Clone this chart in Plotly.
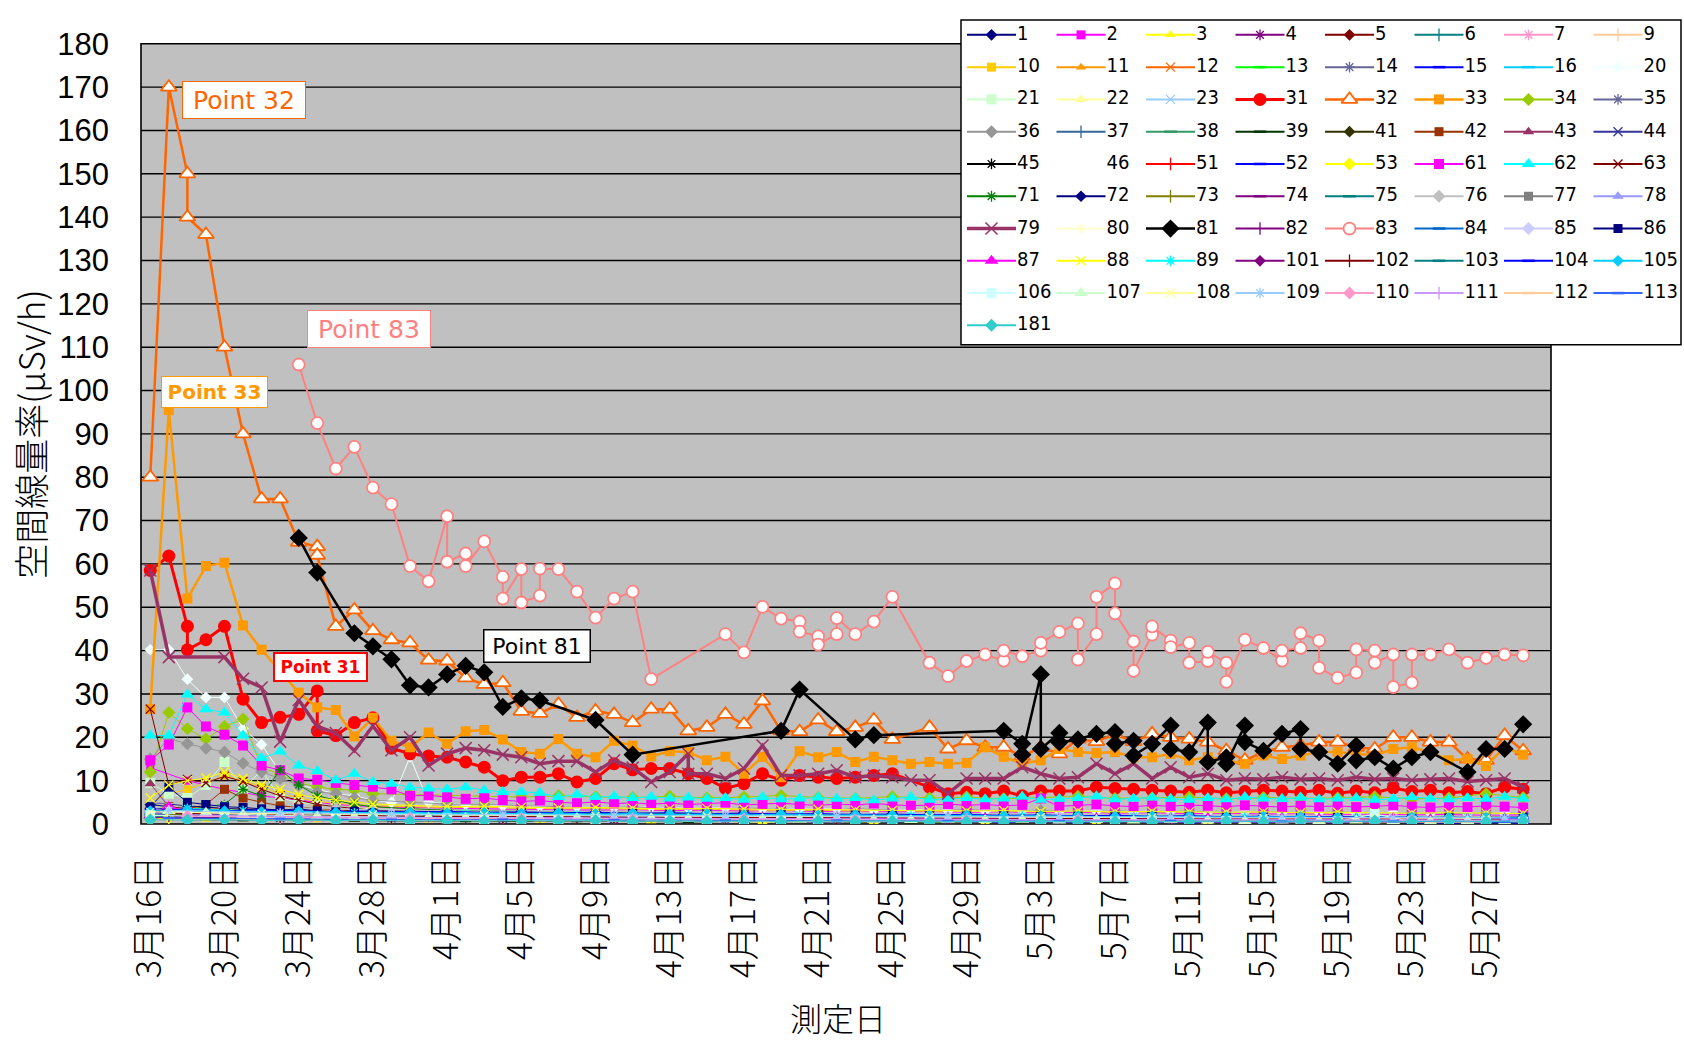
import pandas as pd
import plotly.graph_objects as go

BASE = pd.Timestamp("2011-03-16")

# ---------------- category (day offset from 3/16) lists ----------------
D_ALL = list(range(0, 75))
D_EVEN = list(range(0, 75, 2))
D_ODD = list(range(1, 75, 2))
D_EARLY = list(range(0, 13)) + list(range(14, 75, 2))
D3_A = list(range(0, 75, 3))
D3_B = list(range(1, 75, 3))
D3_C = list(range(2, 75, 3))
D6_A = list(range(0, 75, 6))
D6_B = list(range(1, 75, 6))
D6_C = list(range(2, 75, 6))

# ---------------- main series ----------------
s31_d = [0, 1, 2, 2, 3, 4, 5, 6, 7, 8, 9, 9] + list(range(10, 41)) + list(range(42, 75))
s31_v = [58.5, 61.8, 45.6, 40.2, 42.5, 45.6, 28.8, 23.4, 24.6, 25.3, 30.7, 21.5,
         20.4, 23.4, 24.5, 17.5, 16.2, 15.7, 15.4, 14.3, 13.1, 10,
         10.8, 10.8, 11.6, 9.7, 10.5, 13.9, 12.5, 12.8, 12.8, 11.6,
         10.5, 8.2, 9.3, 11.6, 10.1, 11.2, 10.8, 10.5, 10.8, 11.2,
         11.6,
         8.5, 7, 7.3, 7, 7.6, 6.5, 7.6, 7.6, 7.6, 8.5,
         8.2, 8, 7.8, 7.6, 7.3, 7.8, 7.2, 7.5, 7.8, 7.6,
         7.3, 7.8, 7.1, 7.6, 7.2, 8.3, 7.5, 7.8, 7.2, 7.5,
         7, 8.5, 8]

s32_d = [0, 1, 2, 2, 3, 4, 5, 6, 7, 8, 9, 9] + list(range(10, 41)) + list(range(42, 75))
s32_v = [80, 170, 150, 140, 136, 110, 90, 75, 75, 65, 64, 62,
         45.6, 49.4, 44.6, 42.5, 41.8, 37.8, 37.6, 33.7, 32.2, 32.6,
         26, 25.5, 27.6, 24.6, 26.1, 25.3, 23.4, 26.5, 26.5, 21.5,
         22.3, 25.3, 23, 28.4, 21.5, 21.3, 24, 21.3, 22.3, 24,
         19.5,
         22.3, 17.3, 19.2, 17.7, 17.7, 15.6, 17.7, 16.2, 19.6, 19,
         20.8, 19, 20.8, 20, 19.6, 18.9, 16.9, 14.7, 16.6, 17.7,
         18.1, 18.9, 18.9, 17.7, 17.3, 20, 20, 18.9, 18.9, 15,
         14.7, 20.4, 16.9]

s33_d = list(range(0, 7)) + list(range(8, 75))
s33_v = [26.5, 95.5, 52, 59.5, 60.3, 45.8, 40.2,
         30.3, 26.9, 26.3, 20.2, 24.5, 19.2, 17.7, 21.1, 18.5, 21.4,
         21.7, 19.5, 16.6, 16.2, 19.6, 16.2, 15.4, 19.2, 18.1, 15.6,
         16.8, 16.6, 14.7, 15.5, 11.6, 15.5, 10.8, 16.8, 15.4, 16.6,
         14.3, 15.5, 14.7, 13.9, 14.3, 13.9, 14.1, 17.7, 15.5, 13.9,
         14.7, 17.3, 16.6, 16.4, 16.6, 15.4, 15.4, 16.2, 14.7, 15.4,
         14.7, 13.9, 15.8, 15, 15.8, 16.6, 16.6, 16.2, 15.8, 17.3,
         17.7, 16.6, 14.7, 15, 13.4, 17.7, 16]

s79_d = [0, 1] + list(range(4, 30)) + [29] + list(range(30, 75))
s79_v = [58.5, 38.5,
         38.5, 33.5, 31.5, 19, 28.6, 22.5, 21, 16.9, 22.6, 17,
         20, 13.5, 16.2, 17.5, 17, 16, 15.4, 13.9, 14.5, 14.5,
         12, 14.7, 13, 9.7, 12, 16.2,
         11.6,
         11.6, 10.5, 12.8, 18.1, 11.2, 11.2, 11.6, 12.4, 10.8, 11.2,
         10.8, 10.1, 10.1, 7, 10.5, 10.5, 10.5, 13.1, 11.6, 10.5,
         10.8, 13.9, 11.6, 13.9, 10.5, 13.1, 10.8, 11.6, 10.1, 10.5,
         10.3, 10.8, 10.3, 10.5, 10.1, 10.8, 10.3, 10.5, 10.1, 10.3,
         10.5, 9.8, 10.1, 10.5, 8.5]

s81_d = [8, 9, 11, 12, 13, 14, 15, 16, 17, 18, 19, 20, 21, 24, 26, 34, 35, 38, 39, 46,
         47, 47, 48, 48, 49, 49, 50, 51, 52, 52, 53, 53, 54, 55, 55, 56, 57, 57, 58, 58,
         59, 59, 60, 61, 62, 62, 63, 64, 65, 65, 66, 67, 68, 69, 71, 72, 73, 74]
s81_v = [66, 58, 44, 41, 38, 32, 31.5, 34.5, 36.5, 35, 27, 29, 28.5, 24, 16, 21.5, 31, 19.5, 20.5, 21.5,
         18.5, 16, 34.5, 17.3, 21, 18.8, 19.5, 20.8, 21.2, 18.5, 19.2, 15.8, 18.5, 22.7, 17.3, 16.6, 23.4, 14.3, 15.4, 13.9,
         22.7, 18.9, 16.9, 20.8, 21.9, 17.3, 16.6, 13.9, 18.1, 14.7, 15.4, 12.8, 15.4, 16.6, 12, 17.3, 17.3, 23]

s83_d = [8, 9, 10, 11, 12, 13, 14, 15, 16, 16, 17, 17, 18, 19, 19, 20, 20, 21, 21, 22,
         23, 24, 25, 26, 27, 31, 32, 33, 34, 35, 35, 36, 36, 37, 37, 38, 39, 40, 42, 43,
         44, 45, 46, 46, 47, 48, 48, 49, 50, 50, 51, 51, 52, 52, 53, 53, 54, 54, 55, 55,
         56, 56, 57, 57, 58, 58, 59, 60, 61, 61, 62, 62, 63, 63, 64, 65, 65, 66, 66, 67,
         67, 68, 68, 69, 70, 71, 72, 73, 74]
s83_v = [106, 92.5, 82, 87, 77.6, 73.8, 59.5, 56, 71, 60.5, 62.4, 59.5, 65.2, 57, 52, 58.8, 51.1, 52.7, 58.9, 58.8,
         53.6, 47.6, 52, 53.6, 33.4, 43.8, 39.6, 50.1, 47.4, 46.7, 44.4, 43.3, 41.4, 43.8, 47.5, 43.8, 46.7, 52.4, 37.2, 34.1,
         37.6, 39.1, 37.7, 40, 38.7, 40, 41.8, 44.3, 46.3, 37.9, 43.8, 52.4, 55.5, 48.6, 42.1, 35.3, 43.7, 45.6, 42.3, 40.8,
         41.8, 37.2, 37.6, 39.7, 37.2, 32.8, 42.5, 40.6, 37.7, 40, 40.6, 44, 42.3, 36, 33.7, 34.9, 40.3, 40, 37.2, 39.1,
         31.6, 32.6, 39.1, 39.1, 40.3, 37.2, 38.3, 39.1, 38.9]

s20_d = list(range(0, 16)) + list(range(17, 75, 2))
s20_v = [40.2, 40.2, 33.4, 29.2, 29.2, 22.0, 18.3, 12.0, 9.0, 8.0, 7.0, 6.5, 5.5, 5.0, 15.5, 5.0,
         4.5, 4.2, 4.1, 4.0, 3.8, 3.9, 3.6, 3.7, 3.5, 3.4, 3.5, 3.2, 3.3, 3.1, 3.0, 3.1, 2.9, 3.0, 2.8, 2.9,
         2.7, 2.8, 2.6, 2.7, 2.5, 2.6, 2.5, 2.4, 2.5]

# ---------------- daily low series ----------------
s62_v = [20.4, 20.4, 29.9, 26.5, 25.7, 20.4, 15.2, 16.7, 13.5, 12.2, 10.1, 11.6, 9.7, 9.3, 8.5, 8.2, 8.0, 8.5, 7.8, 7.4,
         7.4, 7.2, 6.2, 6.8, 6.2, 6.4,
         6.0, 6.3, 5.9, 6.1, 5.8, 6.0, 5.6, 6.2, 5.7, 5.9, 6.1, 5.8, 6.0, 5.5, 5.9, 6.2, 5.6, 5.8, 6.0, 5.7, 5.9, 6.3, 5.6, 5.8, 6.0,
         6.4, 5.7, 5.9, 6.1, 5.8, 5.6, 6.0, 5.7, 6.2, 5.9, 5.8, 6.1, 5.7, 5.9, 6.0, 5.6, 5.8, 6.2, 5.9, 5.7, 6.0, 5.8, 6.3, 5.9]
s61_v = [14.7, 18.3, 26.9, 22.5, 20.6, 18.1, 13.5, 12.4, 10.5, 10.2, 9.5, 9.0, 8.6, 8.0, 6.5, 6.6, 6.2, 5.8, 6.0, 5.5, 5.2,
         5.4, 5.0, 4.8, 5.1, 4.7, 4.9, 4.6, 4.8, 4.5, 4.7,
         4.9, 4.4, 4.6, 4.8, 4.5, 4.3, 4.6, 4.4, 4.7, 4.5,
         4.2, 4.4, 4.6, 4.3, 4.5, 4.2, 4.4, 5.9, 4.1, 4.3,
         4.5, 4.2, 4.0, 4.3, 4.1, 4.4, 4.2, 4.0, 4.3, 4.1,
         3.9, 4.2, 4.0, 4.2, 3.9, 4.1, 4.3, 4.0, 3.8, 4.1,
         3.9, 4.2, 4.0, 3.8]
s87_v = [2.0, 4.0, 3.0, 2.2, 1.8, 1.6, 1.5, 1.4, 1.6, 1.3,
         1.4, 1.5, 1.3, 1.4, 1.6, 1.3, 1.5, 1.4, 1.2, 1.5, 1.4, 1.3, 1.6, 1.4, 1.3, 1.5, 1.2, 1.4, 1.3, 1.5,
         1.4, 1.2, 1.3, 1.5, 1.4, 1.3, 1.2, 1.4, 1.5, 1.3, 1.2, 1.4, 1.3, 1.1, 1.4, 1.3, 1.2, 1.4, 1.3, 1.2,
         1.5, 1.3, 1.2, 1.4, 1.1, 1.3, 1.2, 1.4, 1.3, 1.1, 1.2, 1.4, 1.3, 1.2, 1.1, 1.3, 1.2, 1.4, 1.2, 1.1,
         1.3, 1.2, 1.1, 1.3, 1.2]

# ---------------- early-detail low series (D_EARLY) ----------------
s34_v = [12.0, 25.7, 22.0, 19.6, 22.5, 24.2, 13.0, 11.5, 9.5, 8.5, 8.0, 7.8, 7.0,
         6.8, 6.5, 6.4, 6.2, 6.5, 6.3, 6.1, 6.4, 6.0, 6.2, 6.6, 6.1, 5.9, 6.3, 6.0, 6.2, 5.8, 6.1, 6.4, 5.9,
         6.0, 6.2, 5.8, 6.1, 5.9, 6.0, 6.3, 5.8, 6.0, 7.0, 6.1]
s36_v = [15.0, 19.7, 18.5, 17.5, 16.6, 14.0, 12.0, 10.5, 9.0, 7.4, 7.0, 6.0, 5.5,
         5.0, 4.6, 4.5, 4.2, 4.0, 3.8, 3.9, 3.6, 3.5, 3.7, 3.4, 3.3, 3.5, 3.2, 3.1, 3.3, 3.0, 3.1, 2.9, 3.0,
         2.8, 2.9, 2.7, 2.8, 2.6, 2.7, 2.5, 2.6, 2.4, 2.5, 2.4]
s21_v = [9.5, 7.0, 6.0, 9.0, 14.3, 8.0, 12.4, 6.0, 5.0, 4.5, 4.0, 3.6, 3.5,
         3.0, 2.8, 2.5, 2.3, 2.1, 2.0, 1.9, 1.7, 1.8, 1.6, 1.5, 1.6, 1.4, 1.3, 1.4, 1.2, 1.1, 1.2, 1.0, 1.1,
         0.9, 1.0, 0.9, 0.8, 0.9, 0.8, 0.7, 0.8, 0.7, 0.8, 0.7]
s43_v = [9.3, 4.0, 3.0, 2.5, 2.0, 2.2, 1.8, 1.6, 1.5, 1.4, 1.3, 1.2, 1.2,
         1.1, 1.0, 1.1, 0.9, 1.0, 0.9, 0.8, 0.9, 0.8, 0.9, 0.8, 0.7, 0.8, 0.7, 0.8, 0.7, 0.6, 0.7, 0.6, 0.7,
         0.6, 0.7, 0.6, 0.5, 0.6, 0.5, 0.6, 0.5, 0.6, 0.5, 0.5]
s86_v = [4.0, 8.5, 5.0, 4.5, 4.0, 3.8, 3.5, 3.2, 3.5, 3.0, 2.8, 3.0, 2.6,
         2.8, 2.5, 2.6, 2.4, 2.5, 2.3, 2.4, 2.2, 2.3, 2.1, 2.2, 2.0, 2.1, 2.0, 1.9, 2.0, 1.9, 1.8, 1.9, 1.8,
         1.7, 1.8, 1.7, 1.6, 1.7, 1.6, 1.7, 1.5, 1.6, 1.5, 1.6]
s63_v = [26.5, 9.0, 10.3, 9.5, 11.0, 9.8, 8.0, 6.5, 5.5, 4.5, 4.0, 3.6, 3.2,
         3.0, 2.8, 2.6, 2.7, 2.5, 2.4, 2.5, 2.3, 2.2, 2.3, 2.1, 2.2, 2.0, 2.1, 1.9, 2.0, 1.9, 1.8, 1.9, 1.7,
         1.8, 1.7, 1.6, 1.7, 1.6, 1.5, 1.6, 1.5, 1.4, 1.5, 1.4]
s10_v = [5.0, 7.0, 8.0, 9.5, 11.2, 10.0, 8.5, 7.0, 6.0, 5.2, 4.8, 4.5, 4.2,
         4.0, 3.8, 3.9, 3.6, 3.5, 3.6, 3.4, 3.3, 3.4, 3.2, 3.1, 3.2, 3.0, 3.1, 2.9, 3.0, 2.9, 2.8, 2.9, 2.7,
         2.8, 2.7, 2.6, 2.7, 2.6, 2.5, 2.6, 2.5, 2.4, 2.5, 2.4]
s53_v = [1.0, 1.5, 1.4, 3.0, 3.5, 3.0, 2.8, 2.5, 2.6, 2.4, 2.3, 2.4, 2.2,
         2.1, 2.0, 2.2, 1.9, 2.0, 2.1, 1.9, 1.8, 2.0, 1.9, 1.8, 1.9, 1.7, 1.8, 1.9, 1.7, 1.8, 1.6, 1.7, 1.8,
         1.6, 1.7, 1.5, 1.6, 1.7, 1.5, 1.6, 1.5, 1.4, 1.5, 1.6]
s88_v = [6.0, 9.0, 10.0, 10.6, 12.0, 10.5, 9.0, 8.0, 6.8, 6.0, 5.5, 5.0, 4.6,
         4.3, 4.0, 4.1, 3.9, 3.7, 3.8, 3.6, 3.5, 3.6, 3.4, 3.3, 3.4, 3.2, 3.1, 3.2, 3.0, 3.1, 2.9, 3.0, 2.8,
         2.9, 2.8, 2.7, 2.8, 2.6, 2.7, 2.6, 2.5, 2.6, 2.5, 2.4]
s42_v = [3.0, 4.0, 3.5, 4.5, 8.0, 6.0, 5.0, 4.2, 3.8, 3.5, 3.2, 3.0, 2.8,
         2.7, 2.6, 2.5, 2.6, 2.4, 2.3, 2.4, 2.2, 2.3, 2.1, 2.2, 2.0, 2.1, 2.0, 1.9, 2.0, 1.8, 1.9, 1.8, 1.7,
         1.8, 1.7, 1.6, 1.7, 1.6, 1.5, 1.6, 1.5, 1.4, 1.5, 1.4]
s71_v = [3.0, 3.5, 3.2, 4.0, 4.5, 8.0, 6.5, 12.5, 9.0, 6.5, 5.5, 4.5, 4.0,
         3.5, 3.2, 3.0, 2.9, 2.8, 2.6, 2.7, 2.5, 2.4, 2.5, 2.3, 2.2, 2.3, 2.1, 2.0, 2.1, 1.9, 2.0, 1.8, 1.9,
         1.7, 1.8, 1.7, 1.6, 1.7, 1.5, 1.6, 1.5, 1.4, 1.5, 1.4]

# ---------------- even / odd day low series ----------------
s78_v = [2.5, 2.8, 2.6, 2.4, 2.2, 2.3, 2.1, 2.0, 2.1, 1.9, 2.0, 1.8, 1.9, 1.7, 1.8, 1.7, 1.6, 1.7, 1.6, 1.5,
         1.6, 1.5, 1.4, 1.5, 1.4, 1.3, 1.4, 1.3, 1.2, 1.3, 1.2, 1.3, 1.1, 1.2, 1.1, 1.2, 1.1, 1.0]
s76_v = [5.0, 4.5, 4.0, 3.8, 3.6, 3.5, 3.3, 3.2, 3.1, 3.0, 2.9, 2.8, 2.9, 2.7, 2.6, 2.7, 2.5, 2.6, 2.4, 2.5,
         2.3, 2.4, 2.2, 2.3, 2.1, 2.2, 2.0, 2.1, 2.0, 1.9, 2.0, 1.9, 1.8, 1.9, 1.8, 1.7, 1.8, 1.7]
s105_v = [3.0, 3.2, 3.0, 2.8, 2.9, 2.7, 2.6, 2.7, 2.5, 2.6, 2.4, 2.5, 2.3, 2.4, 2.2, 2.3, 2.1, 2.2, 2.0, 2.1,
          2.0, 1.9, 2.0, 1.8, 1.9, 1.8, 1.7, 1.8, 1.7, 1.6, 1.7, 1.6, 1.5, 1.6, 1.5, 1.4, 1.5, 1.4]
s181_v = [1.0, 0.9, 1.0, 0.8, 0.9, 0.8, 0.9, 0.7, 0.8, 0.7, 0.8, 0.7, 0.8, 0.6, 0.7, 0.6, 0.7, 0.6, 0.7, 0.6,
          0.7, 0.5, 0.6, 0.5, 0.6, 0.5, 0.6, 0.5, 0.6, 0.7, 0.6, 0.7, 0.6, 0.7, 0.6, 0.7, 0.6, 0.7]
s2_v = [13.0, 10.0, 8.0, 6.5, 5.5, 4.5, 4.0, 3.8, 3.6, 3.5, 3.4, 3.3, 3.2, 3.3, 3.1, 3.2, 3.0, 3.1, 2.9, 3.0,
        2.8, 2.9, 2.7, 2.8, 2.6, 2.7, 2.5, 2.6, 2.4, 2.5, 2.3, 2.4, 2.2, 2.3, 2.1, 2.2, 2.0, 2.1]
s1_v = [4.5, 3.5, 3.0, 2.8, 2.5, 2.3, 2.2, 2.0, 1.9, 1.8, 1.7, 1.8, 1.6, 1.7, 1.5, 1.6, 1.4, 1.5, 1.3, 1.4,
        1.3, 1.2, 1.3, 1.1, 1.2, 1.1, 1.0, 1.1, 1.0, 0.9, 1.0, 0.9, 0.8, 0.9, 0.8, 0.7, 0.8, 0.7]
s72_v = [5.0, 4.2, 3.6, 3.2, 3.0, 2.8, 2.6, 2.5, 2.4, 2.3, 2.4, 2.2, 2.3, 2.1, 2.2, 2.0, 2.1, 1.9, 2.0, 1.8,
         1.9, 1.7, 1.8, 1.6, 1.7, 1.5, 1.6, 1.4, 1.5, 1.3, 1.4, 1.2, 1.3, 1.1, 1.2, 1.0, 1.1, 1.0]
s15_v = [2.0, 2.2, 2.0, 1.9, 1.8, 1.9, 1.7, 1.8, 1.6, 1.7, 1.5, 1.6, 1.4, 1.5, 1.3, 1.4, 1.2, 1.3, 1.2, 1.1,
         1.2, 1.1, 1.0, 1.1, 1.0, 0.9, 1.0, 0.9, 0.8, 0.9, 0.8, 0.7, 0.8, 0.7, 0.6, 0.7, 0.6, 0.5]
s104_v = [3.5, 3.3, 3.1, 3.2, 3.0, 2.9, 3.0, 2.8, 2.9, 2.7, 2.8, 2.6, 2.7, 2.5, 2.6, 2.4, 2.5, 2.3, 2.4, 2.2,
          2.3, 2.1, 2.2, 2.0, 2.1, 1.9, 2.0, 1.8, 1.9, 1.7, 1.8, 1.6, 1.7, 1.5, 1.6, 1.4, 1.5, 1.4]
s52_v = [1.2, 1.3, 1.1, 1.2, 1.0, 1.1, 0.9, 1.0, 0.9, 0.8, 0.9, 0.8, 0.7, 0.8, 0.7, 0.6, 0.7, 0.6, 0.5, 0.6,
         0.5, 0.6, 0.5, 0.4, 0.5, 0.4, 0.5, 0.4, 0.3, 0.4, 0.3, 0.4, 0.3, 0.4, 0.3, 0.2, 0.3, 0.2]
s106_v = [2.0, 1.8, 1.6, 1.5, 1.4, 1.3, 1.4, 1.2, 1.3, 1.1, 1.2, 1.0, 1.1, 1.0, 0.9, 1.0, 0.9, 0.8, 0.9, 0.8,
          0.9, 0.7, 0.8, 0.7, 0.8, 0.7, 0.6, 0.7, 0.6, 0.7, 0.6, 0.5, 0.6, 2.3, 0.6, 0.5, 0.6, 0.5]
s107_v = [3.0, 2.6, 2.2, 2.0, 1.8, 1.7, 1.6, 1.5, 1.4, 1.5, 1.3, 1.4, 1.2, 1.3, 1.2, 1.1, 1.2, 1.0, 1.1, 1.0,
          0.9, 1.0, 0.9, 1.0, 0.8, 0.9, 0.8, 0.9, 0.8, 0.7, 0.8, 0.7, 0.8, 0.7, 0.6, 0.7, 0.6]

# ---------------- minor series ----------------
s3_v = [1.4, 1.1, 1.0, 0.9, 0.8, 0.9, 0.7, 0.8, 0.6, 0.7, 0.6, 0.5, 0.6, 0.5, 0.5, 0.4, 0.5, 0.4, 0.4, 0.5, 0.3, 0.4, 0.3, 0.4, 0.3]
s13_v = [2.1, 1.8, 1.6, 1.5, 1.3, 1.4, 1.2, 1.1, 1.2, 1.0, 1.1, 0.9, 1.0, 0.9, 0.8, 0.9, 0.8, 0.7, 0.8, 0.7, 0.7, 0.6, 0.7, 0.6, 0.6]
s37_v = [3.2, 2.7, 2.4, 2.2, 2.1, 1.9, 2.0, 1.8, 1.7, 1.8, 1.6, 1.5, 1.6, 1.4, 1.5, 1.3, 1.4, 1.3, 1.2, 1.3, 1.1, 1.2, 1.1, 1.0, 1.1]
s84_v = [2.6, 2.3, 2.0, 1.9, 1.7, 1.8, 1.6, 1.5, 1.6, 1.4, 1.3, 1.4, 1.2, 1.3, 1.2, 1.1, 1.2, 1.0, 1.1, 1.0, 0.9, 1.0, 0.9, 0.8, 0.9]
s4_v = [2.4, 2.0, 1.9, 1.7, 1.6, 1.4, 1.5, 1.3, 1.2, 1.3, 1.1, 1.2, 1.0, 1.1, 1.0, 0.9, 1.0, 0.9, 0.8, 0.9, 0.8, 0.7, 0.8, 0.7, 0.7]
s14_v = [1.9, 1.7, 1.5, 1.4, 1.3, 1.2, 1.3, 1.1, 1.0, 1.1, 0.9, 1.0, 0.9, 0.8, 0.9, 0.8, 0.7, 0.8, 0.7, 0.6, 0.7, 0.6, 0.6, 0.5, 0.6]
s38_v = [2.8, 2.4, 2.2, 2.0, 1.9, 1.8, 1.7, 1.8, 1.6, 1.5, 1.6, 1.4, 1.5, 1.3, 1.4, 1.2, 1.3, 1.2, 1.1, 1.2, 1.0, 1.1, 1.0, 0.9, 1.0]
s85_v = [3.5, 3.0, 2.7, 2.5, 2.3, 2.2, 2.1, 2.2, 2.0, 1.9, 2.0, 1.8, 1.9, 1.7, 1.8, 1.6, 1.7, 1.6, 1.5, 1.6, 1.4, 1.5, 1.4, 1.3, 1.4]
s5_v = [3.0, 2.5, 2.1, 1.9, 1.8, 1.6, 1.7, 1.5, 1.4, 1.5, 1.3, 1.4, 1.2, 1.3, 1.1, 1.2, 1.1, 1.0, 1.1, 0.9, 1.0, 0.9, 0.8, 0.9, 0.8]
s16_v = [1.6, 1.4, 1.3, 1.2, 1.1, 1.0, 1.1, 0.9, 1.0, 0.9, 0.8, 0.9, 0.8, 0.7, 0.8, 0.7, 0.6, 0.7, 0.6, 0.7, 0.5, 0.6, 0.5, 0.6, 0.5]
s39_v = [1.0, 0.9, 0.8, 0.8, 0.7, 0.7, 0.6, 0.7, 0.6, 0.5, 0.6, 0.5, 0.5, 0.4, 0.5, 0.4, 0.4, 0.3, 0.4, 0.3, 0.4, 0.3, 0.3, 0.2, 0.3]
s89_v = [3.6, 3.1, 2.8, 2.6, 2.4, 2.5, 2.3, 2.2, 2.3, 2.1, 2.0, 2.1, 1.9, 2.0, 1.8, 1.9, 1.7, 1.8, 1.7, 1.6, 1.7, 1.5, 1.6, 1.5, 1.4]
s6_v = [1.8, 1.4, 1.2, 1.1, 1.0, 0.9, 0.9, 0.8, 0.8, 0.7, 0.7, 0.6, 0.6]
s22_v = [2.0, 1.6, 1.4, 1.3, 1.2, 1.1, 1.0, 1.0, 0.9, 0.9, 0.8, 0.8, 0.7]
s41_v = [1.2, 1.0, 0.9, 0.8, 0.8, 0.7, 0.7, 0.6, 0.6, 0.5, 0.5, 0.5, 0.4]
s51_v = [2.6, 2.1, 1.9, 1.7, 1.6, 1.5, 1.4, 1.4, 1.3, 1.2, 1.2, 1.1, 1.1]
s80_v = [3.4, 2.8, 2.5, 2.3, 2.2, 2.0, 2.1, 1.9, 1.8, 1.9, 1.7, 1.8, 1.6]
s101_v = [1.5, 1.3, 1.1, 1.0, 1.0, 0.9, 0.8, 0.8, 0.7, 0.7, 0.7, 0.6, 0.6]
s108_v = [2.8, 2.4, 2.2, 2.0, 1.9, 1.8, 1.7, 1.6, 1.6, 1.5, 1.4, 1.4, 1.3]
s112_v = [1.1, 0.9, 0.8, 0.8, 0.7, 0.6, 0.6, 0.6, 0.5, 0.5, 0.5, 0.4, 0.4]
s7_v = [2.3, 1.9, 1.7, 1.6, 1.5, 1.4, 1.3, 1.3, 1.2, 1.2, 1.1, 1.1, 1.0]
s9_v = [1.3, 1.1, 1.0, 0.9, 0.9, 0.8, 0.8, 0.7, 0.7, 0.6, 0.6, 0.6, 0.5]
s23_v = [2.9, 2.4, 2.1, 1.9, 1.8, 1.7, 1.6, 1.5, 1.5, 1.4, 1.3, 1.3, 1.2]
s44_v = [1.7, 1.4, 1.3, 1.2, 1.1, 1.0, 1.0, 0.9, 0.9, 0.8, 0.8, 0.7, 0.7]
s73_v = [2.2, 1.8, 1.6, 1.5, 1.4, 1.3, 1.2, 1.2, 1.1, 1.1, 1.0, 1.0, 0.9]
s82_v = [1.9, 1.6, 1.4, 1.3, 1.2, 1.2, 1.1, 1.0, 1.0, 0.9, 0.9, 0.8, 0.8]
s102_v = [2.5, 2.1, 1.8, 1.7, 1.6, 1.5, 1.4, 1.3, 1.3, 1.2, 1.2, 1.1, 1.1]
s109_v = [3.1, 2.6, 2.3, 2.1, 2.0, 1.9, 1.8, 1.7, 1.7, 1.6, 1.5, 1.5, 1.4]
s113_v = [1.4, 1.2, 1.0, 1.0, 0.9, 0.8, 0.8, 0.7, 0.7, 0.7, 0.6, 0.6, 0.5]
s35_v = [2.7, 2.2, 2.0, 1.8, 1.7, 1.6, 1.5, 1.4, 1.4, 1.3, 1.3, 1.2, 1.2]
s11_v = [2.4, 2.0, 1.8, 1.6, 1.5, 1.4, 1.3, 1.3, 1.2, 1.1, 1.1, 1.0, 1.0]
s12_v = [3.8, 3.1, 2.7, 2.5, 2.3, 2.2, 2.1, 2.0, 1.9, 1.9, 1.8, 1.7, 1.7]
s45_v = [1.6, 1.3, 1.2, 1.1, 1.0, 0.9, 0.9, 0.8, 0.8, 0.7, 0.7, 0.7, 0.6]
s74_v = [2.0, 1.7, 1.5, 1.4, 1.3, 1.2, 1.2, 1.1, 1.0, 1.0, 0.9, 0.9, 0.9]
s75_v = [2.9, 2.4, 2.1, 2.0, 1.8, 1.7, 1.7, 1.6, 1.5, 1.5, 1.4, 1.4, 1.3]
s77_v = [3.3, 2.7, 2.4, 2.2, 2.1, 2.0, 1.9, 1.8, 1.8, 1.7, 1.6, 1.6, 1.5]
s103_v = [1.2, 1.0, 0.9, 0.8, 0.8, 0.7, 0.7, 0.6, 0.6, 0.6, 0.5, 0.5, 0.5]
s110_v = [1.8, 1.5, 1.3, 1.2, 1.1, 1.1, 1.0, 0.9, 0.9, 0.8, 0.8, 0.8, 0.7]
s111_v = [2.1, 1.7, 1.5, 1.4, 1.3, 1.2, 1.2, 1.1, 1.0, 1.0, 1.0, 0.9, 0.9]
s46_v = []

# x-axis tick labels
TICK_DAYS = list(range(0, 73, 4))

# ---------------- series table (legend order) ----------------
SERIES = [
    ("1", D_EVEN, s1_v), ("2", D_EVEN, s2_v), ("3", D3_A, s3_v), ("4", D3_B, s4_v),
    ("5", D3_C, s5_v), ("6", D6_A, s6_v), ("7", D6_A, s7_v), ("9", D6_B, s9_v),
    ("10", D_EARLY, s10_v), ("11", D6_C, s11_v), ("12", D6_C, s12_v), ("13", D3_A, s13_v),
    ("14", D3_B, s14_v), ("15", D_EVEN, s15_v), ("16", D3_C, s16_v), ("20", s20_d, s20_v),
    ("21", D_EARLY, s21_v), ("22", D6_A, s22_v), ("23", D6_B, s23_v), ("31", s31_d, s31_v),
    ("32", s32_d, s32_v), ("33", s33_d, s33_v), ("34", D_EARLY, s34_v), ("35", D6_B, s35_v),
    ("36", D_EARLY, s36_v), ("37", D3_A, s37_v), ("38", D3_B, s38_v), ("39", D3_C, s39_v),
    ("41", D6_A, s41_v), ("42", D_EARLY, s42_v), ("43", D_EARLY, s43_v), ("44", D6_B, s44_v),
    ("45", D6_C, s45_v), ("46", [], s46_v), ("51", D6_A, s51_v), ("52", D_EVEN, s52_v),
    ("53", D_EARLY, s53_v), ("61", D_ALL, s61_v), ("62", D_ALL, s62_v), ("63", D_EARLY, s63_v),
    ("71", D_EARLY, s71_v), ("72", D_EVEN, s72_v), ("73", D6_B, s73_v), ("74", D6_C, s74_v),
    ("75", D6_C, s75_v), ("76", D_EVEN, s76_v), ("77", D6_C, s77_v), ("78", D_EVEN, s78_v),
    ("79", s79_d, s79_v), ("80", D6_A, s80_v), ("81", s81_d, s81_v), ("82", D6_B, s82_v),
    ("83", s83_d, s83_v), ("84", D3_A, s84_v), ("85", D3_B, s85_v), ("86", D_EARLY, s86_v),
    ("87", D_ALL, s87_v), ("88", D_EARLY, s88_v), ("89", D3_C, s89_v), ("101", D6_A, s101_v),
    ("102", D6_B, s102_v), ("103", D6_C, s103_v), ("104", D_EVEN, s104_v), ("105", D_EVEN, s105_v),
    ("106", D_EVEN, s106_v), ("107", D_ODD, s107_v), ("108", D6_A, s108_v), ("109", D6_B, s109_v),
    ("110", D6_C, s110_v), ("111", D6_C, s111_v), ("112", D6_A, s112_v), ("113", D6_B, s113_v),
    ("181", D_EVEN, s181_v),
]

# ---------------- styles: color, symbol, marker size, line width, marker fill ----------------
STYLE = {
    "1": ("#000080", "diamond", 9, 1, None), "2": ("#FF00FF", "square", 8, 1, None),
    "3": ("#FFFF00", "triangle-up", 9, 1, None), "4": ("#800080", "asterisk-open", 8, 1, None),
    "5": ("#800000", "diamond", 9, 1, None), "6": ("#008080", "line-ns-open", 9, 1, None),
    "7": ("#FF99CC", "asterisk-open", 8, 1, None), "9": ("#FFCC99", "line-ns-open", 9, 1, None),
    "10": ("#FFCC00", "square", 8, 1, None), "11": ("#FF9900", "triangle-up", 9, 1, None),
    "12": ("#FF6600", "x-thin-open", 8, 1, None), "13": ("#00FF00", "line-ew-open", 8, 1, None),
    "14": ("#666699", "asterisk-open", 8, 1, None), "15": ("#0000FF", "line-ew-open", 8, 1, None),
    "16": ("#00CCFF", "line-ew-open", 8, 1, None), "20": ("#F0FFFF", "diamond", 9, 1, None),
    "21": ("#CCFFCC", "square", 10, 1, None), "22": ("#FFFF99", "triangle-up", 10, 1, None),
    "23": ("#99CCFF", "x-thin-open", 8, 1, None), "31": ("#FF0000", "circle", 13, 3, None),
    "32": ("#FF6600", "triangle-up", 14, 2.5, "#FFFFFF"), "33": ("#FF9900", "square", 10, 2.5, None),
    "34": ("#99CC00", "diamond", 10, 1, None), "35": ("#666699", "asterisk-open", 8, 1, None),
    "36": ("#969696", "diamond", 10, 1, None), "37": ("#336699", "line-ns-open", 9, 1, None),
    "38": ("#339966", "line-ew-open", 8, 1, None), "39": ("#003300", "line-ew-open", 8, 1, None),
    "41": ("#333300", "diamond", 9, 1, None), "42": ("#993300", "square", 9, 1, None),
    "43": ("#993366", "triangle-up", 10, 1, None), "44": ("#333399", "x-thin-open", 8, 1, None),
    "45": ("#000000", "asterisk-open", 7, 1, None), "46": ("rgba(0,0,0,0)", "circle", 1, 0, None),
    "51": ("#FF0000", "line-ns-open", 9, 1, None), "52": ("#0000FF", "line-ew-open", 8, 1, None),
    "53": ("#FFFF00", "diamond", 10, 1, None), "61": ("#FF00FF", "square", 10, 1, None),
    "62": ("#00FFFF", "triangle-up", 12, 1, None), "63": ("#800000", "x-thin-open", 9, 1, None),
    "71": ("#008000", "asterisk-open", 8, 1, None), "72": ("#000080", "diamond", 9, 1, None),
    "73": ("#808000", "line-ns-open", 9, 1, None), "74": ("#800080", "line-ew-open", 8, 1, None),
    "75": ("#008080", "line-ew-open", 8, 1, None), "76": ("#C0C0C0", "diamond", 10, 1, None),
    "77": ("#808080", "square", 9, 1, None), "78": ("#9999FF", "triangle-up", 10, 1, None),
    "79": ("#993366", "x-thin-open", 12, 3.5, None), "80": ("#FFFFCC", "asterisk-open", 8, 1, None),
    "81": ("#000000", "diamond", 14, 2.5, None), "82": ("#800080", "line-ns-open", 9, 1, None),
    "83": ("#FF8080", "circle", 12, 2, "#FFFFFF"), "84": ("#0066CC", "line-ew-open", 8, 1, None),
    "85": ("#CCCCFF", "diamond", 10, 1, None), "86": ("#000080", "square", 9, 1, None),
    "87": ("#FF00FF", "triangle-up", 12, 1, None), "88": ("#FFFF00", "x-thin-open", 9, 1, None),
    "89": ("#00FFFF", "asterisk-open", 8, 1, None), "101": ("#800080", "diamond", 9, 1, None),
    "102": ("#800000", "line-ns-open", 9, 1, None), "103": ("#008080", "line-ew-open", 8, 1, None),
    "104": ("#0000FF", "line-ew-open", 8, 1, None), "105": ("#00CCFF", "diamond", 9, 1, None),
    "106": ("#CCFFFF", "square", 10, 1, None), "107": ("#CCFFCC", "triangle-up", 12, 1, None),
    "108": ("#FFFF99", "x-thin-open", 8, 1, None), "109": ("#99CCFF", "asterisk-open", 8, 1, None),
    "110": ("#FF99CC", "diamond", 10, 1, None), "111": ("#CC99FF", "line-ns-open", 9, 1, None),
    "112": ("#FFCC99", "line-ew-open", 8, 1, None), "113": ("#3366FF", "line-ew-open", 8, 1, None),
    "181": ("#33CCCC", "diamond", 10, 1, None),
}

FONT_CJK = "Noto Sans CJK JP"

# ---------------- geometry (pixels of the 1684x1042 canvas) ----------------
W, H = 1684, 1042
PL, PR, PT, PB = 141, 1551, 36, 824       # plot area
ML, MR, MT = 141, 3, 12                    # margins
PAPER_W = W - ML - MR
PAPER_H = PB - MT


def px_x(x):
    return (x - ML) / PAPER_W


def px_y(y):
    return (PB - y) / PAPER_H


def to_dates(days):
    return [(BASE + pd.Timedelta(days=int(d))).strftime("%Y-%m-%d") for d in days]


def marker_dict(name, legend=False):
    color, sym, size, lw, fill = STYLE[name]
    if legend:
        size = max(size, 9)
    open_sym = sym.endswith("-open")
    if fill is not None:
        return dict(symbol=sym, size=size, color=fill, line=dict(color=color, width=1.8))
    if open_sym:
        w = 2.5 if sym.startswith("line-ew") else 1.3
        if name == "79":
            w = 1.5
        return dict(symbol=sym, size=size, color=color, line=dict(color=color, width=w))
    return dict(symbol=sym, size=size, color=color, line=dict(color=color, width=0))


fig = go.Figure()

# main data traces
for name, days, vals in SERIES:
    assert len(days) == len(vals), name
    color, sym, size, lw, fill = STYLE[name]
    fig.add_trace(go.Scatter(
        x=to_dates(days), y=vals, mode="lines+markers", name=name,
        line=dict(color=color, width=lw), marker=marker_dict(name),
        showlegend=False, xaxis="x", yaxis="y", cliponaxis=True,
    ))

# legend drawn in its own small subplot
LEG_W, LEG_H = 720, 328
COL_W, ROW_H = 89.5, 32.6
text_x, text_y, text_s = [], [], []
for i, (name, days, vals) in enumerate(SERIES):
    col, row = i % 8, i // 8
    x0 = 6 + COL_W * col
    y0 = 15 + ROW_H * row
    color, sym, size, lw, fill = STYLE[name]
    if name != "46":
        mk = marker_dict(name, True)
        mk["opacity"] = [0, 1, 0]
        fig.add_trace(go.Scatter(
            x=[x0, x0 + 24.5, x0 + 49], y=[y0, y0, y0], mode="lines+markers",
            line=dict(color=color, width=max(2, lw)), marker=mk,
            showlegend=False, xaxis="x2", yaxis="y2", hoverinfo="skip", cliponaxis=False,
        ))
    text_x.append(x0 + 50)
    text_y.append(y0)
    text_s.append(name)

fig.add_trace(go.Scatter(
    x=text_x, y=text_y, text=text_s, mode="text", textposition="middle right",
    textfont=dict(family="Liberation Sans Narrow, DejaVu Sans Condensed", size=20, color="#000000"),
    showlegend=False, xaxis="x2", yaxis="y2", hoverinfo="skip", cliponaxis=False,
))

XD1 = px_x(PR)
YD1 = px_y(PT)

shapes = [
    dict(type="rect", xref="paper", yref="paper", x0=0, x1=XD1, y0=0, y1=YD1,
         fillcolor="#C0C0C0", line=dict(width=0), layer="below"),
]
for v in range(10, 180, 10):
    shapes.append(dict(type="line", xref="paper", yref="y", x0=0, x1=XD1, y0=v, y1=v,
                       line=dict(color="#000000", width=1.4), layer="below"))
shapes.append(dict(type="rect", xref="paper", yref="paper", x0=0, x1=XD1, y0=0, y1=YD1,
                   fillcolor="rgba(0,0,0,0)", line=dict(color="#000000", width=1.6), layer="below"))
shapes.append(dict(type="rect", xref="paper", yref="paper",
                   x0=px_x(961), x1=px_x(1681), y0=px_y(340), y1=px_y(12),
                   fillcolor="#FFFFFF", line=dict(color="#000000", width=1.5), layer="below"))

annotations = [
    dict(text="空間線量率(μSv/h)", xref="paper", yref="paper", x=px_x(30), y=px_y(431),
         textangle=-90, showarrow=False, font=dict(family=FONT_CJK, size=35, color="#000000", weight=300),
         xanchor="center", yanchor="middle"),
    dict(text="測定日", xref="paper", yref="paper", x=px_x(838), y=px_y(1019),
         showarrow=False, font=dict(family=FONT_CJK, size=32, color="#000000", weight=300),
         xanchor="center", yanchor="middle"),
]

LABELS = [
    ("Point 32", 243.7, 92.5, 118, 32, "#FF6600", 25, False, 1),
    ("Point 83", 369.2, 323.8, 118, 32, "#FF8080", 25, False, 1),
    ("Point 33", 214.7, 387.5, 101, 26, "#FF9900", 20, True, 1),
    ("Point 31", 320.3, 665.0, 87, 22, "#FF0000", 17, True, 2),
    ("Point 81", 536.7, 644.7, 101, 27, "#000000", 22, False, 1.5),
]
for txt, cx, cy, bw, bh, col, fs, bold, bwid in LABELS:
    annotations.append(dict(
        text=f"<b>{txt}</b>" if bold else txt, xref="paper", yref="paper",
        x=px_x(cx), y=px_y(cy), xanchor="center", yanchor="middle", showarrow=False,
        font=dict(family="DejaVu Sans", size=fs, color=col),
        bgcolor="#FFFFFF", bordercolor=col, borderwidth=bwid, borderpad=2,
        width=bw, height=bh,
    ))

tick_vals = to_dates(TICK_DAYS)
tick_text = [f"{(BASE + pd.Timedelta(days=d)).month}月{(BASE + pd.Timedelta(days=d)).day}日" for d in TICK_DAYS]

fig.update_layout(
    width=W, height=H,
    margin=dict(l=ML, r=MR, t=MT, b=H - PB, pad=0),
    paper_bgcolor="#FFFFFF", plot_bgcolor="rgba(0,0,0,0)",
    font=dict(family=FONT_CJK, color="#000000"),
    showlegend=False,
    xaxis=dict(
        type="date", domain=[0, XD1], anchor="y",
        range=["2011-03-15 12:00", "2011-05-30 12:00"],
        tickmode="array", tickvals=tick_vals, ticktext=tick_text, tickangle=-90,
        tickfont=dict(family=FONT_CJK, size=34, color="#000000", weight=300),
        showgrid=False, zeroline=False, showline=False, ticks="", ticklabelstandoff=24,
    ),
    yaxis=dict(
        domain=[0, YD1], anchor="x", range=[0, 180],
        tickmode="array", tickvals=list(range(0, 181, 10)),
        tickfont=dict(family="Liberation Sans", size=31, color="#000000"),
        showgrid=False, zeroline=False, showline=False, ticks="", ticklabelstandoff=31,
    ),
    xaxis2=dict(domain=[px_x(961), px_x(1681)], anchor="y2", range=[0, LEG_W],
                visible=False, fixedrange=True),
    yaxis2=dict(domain=[px_y(340), px_y(12)], anchor="x2", range=[LEG_H, 0],
                visible=False, fixedrange=True),
    shapes=shapes,
    annotations=annotations,
)

fig.write_html(
    "out.html",
    config={"displayModeBar": False},
    post_script="document.body.style.margin='0px';document.body.style.overflow='hidden';",
)
